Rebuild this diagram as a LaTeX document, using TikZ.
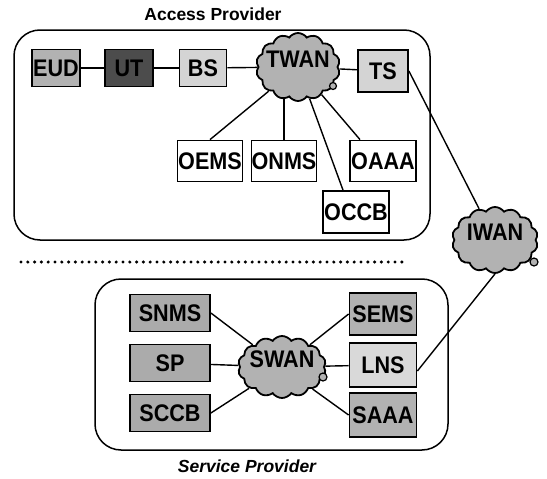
\documentclass[tikz,border=0pt]{standalone}
\usepackage{fontspec}
\setmainfont{Liberation Sans}
\newfontfamily\unitfont{Liberation Sans}[FakeStretch=0.9]
\usetikzlibrary{shapes.symbols,backgrounds}
\newcommand{\wanlabel}[1]{\makebox[0pt]{\smash{#1}}}
\begin{document}
\begin{tikzpicture}[x=1pt,y=-1pt,
  boxlbl/.style={font=\unitfont\fontsize{24}{24}\selectfont\bfseries},
  unit/.style={draw=black,line width=1.8pt,boxlbl,inner sep=0pt,
    minimum width=48pt,minimum height=37pt},
  wan/.style={cloud,cloud puffs=14,cloud puff arc=110,cloud ignores aspect,
    draw=black,line width=1.8pt,fill=black!30,boxlbl,inner sep=0pt},
  bubble/.style={circle,draw=black,line width=1.2pt,fill=black!30,
    inner sep=0pt,minimum size=8pt},
  link/.style={line width=1.4pt},
  realm/.style={draw=black,line width=1.5pt,rounded corners=26pt},
  title/.style={font=\fontsize{17.5}{17.5}\selectfont\bfseries}]
\useasboundingbox (0,0) rectangle (547,479);

% provider domains
\draw[realm] (14,30) rectangle (430,240);
\draw[realm] (95,279) rectangle (448,450);
\node[title] (aptitle) at (213,14) {Access Provider};
\node[title,font=\fontsize{17.5}{17.5}\selectfont\bfseries\itshape] (sptitle) at (247,466) {Service Provider};

% separator
\draw[line width=3.4pt,line cap=round,dash pattern=on 0pt off 6.8pt]
  (21,262) -- (405,262);

% access provider equipment
\node[unit,fill=black!30,minimum width=48pt] (EUD) at (56,68) {EUD};
\node[unit,fill=black!70,minimum width=48pt] (UT) at (129,68) {UT};
\node[unit,fill=black!17,minimum width=47pt] (BS) at (203,68) {BS};
\node[wan,minimum width=84pt,minimum height=68pt] (TWAN) at (298,67) {\wanlabel{TWAN}};
\node[bubble,minimum size=7pt] (TWANb) at (333,86) {};
\node[unit,fill=black!17,minimum width=50pt,minimum height=42pt] (TS) at (383,71) {TS};

\node[unit,fill=white,minimum width=65pt,minimum height=41pt] (OEMS) at (210,161) {OEMS};
\node[unit,fill=white,minimum width=65pt,minimum height=41pt] (ONMS) at (284,161) {ONMS};
\node[unit,fill=white,minimum width=66pt,minimum height=41pt] (OAAA) at (383,161) {OAAA};
\node[unit,fill=white,minimum width=66pt,minimum height=42pt] (OCCB) at (356,212) {OCCB};

% interconnecting network
\node[wan,minimum width=86pt,minimum height=66pt] (IWAN) at (495,240) {\wanlabel{IWAN}};
\node[bubble] (IWANb) at (534,262) {};

% service provider equipment
\node[unit,fill=black!33,minimum width=80pt,minimum height=37pt] (SNMS) at (170,313) {SNMS};
\node[unit,fill=black!33,minimum width=80pt,minimum height=37pt] (SP) at (170,363) {SP};
\node[unit,fill=black!33,minimum width=80pt,minimum height=37pt] (SCCB) at (170,413) {SCCB};
\node[wan,minimum width=88pt,minimum height=62pt] (SWAN) at (282,367) {\wanlabel{SWAN}};
\node[bubble] (SWANb) at (323,377) {};
\node[unit,fill=black!30,minimum width=67pt,minimum height=42pt] (SEMS) at (383,314) {SEMS};
\node[unit,fill=black!15,minimum width=67pt,minimum height=44pt] (LNS) at (383,365) {LNS};
\node[unit,fill=black!30,minimum width=67pt,minimum height=44pt] (SAAA) at (383,415) {SAAA};

% links, kept behind the equipment
\begin{scope}[on background layer]
\draw[link] (EUD) -- (UT);
\draw[link] (UT) -- (BS);
\draw[link] (BS) -- (TWAN);
\draw[link] (TWAN) -- (TS);
\draw[link] (TWAN) -- (OEMS.north);
\draw[link] (ONMS.north) -- (ONMS.north |- TWAN.center);
\draw[link] (TWAN) -- ([xshift=-13pt]OCCB.north);
\draw[link] (TWAN) -- ([xshift=-23pt]OAAA.north);
\draw[link] (TS.east) -- (IWAN);
\draw[link] ([yshift=-6pt]LNS.east) -- (IWAN.south);
\draw[link] (SNMS.east) -- (SWAN);
\draw[link] (SP) -- (SWAN);
\draw[link] (SCCB.east) -- (SWAN);
\draw[link] (SWAN) -- (SEMS.west);
\draw[link] (SWAN) -- (LNS);
\draw[link] (SWAN) -- (SAAA.west);
\end{scope}
\end{tikzpicture}
\end{document}
